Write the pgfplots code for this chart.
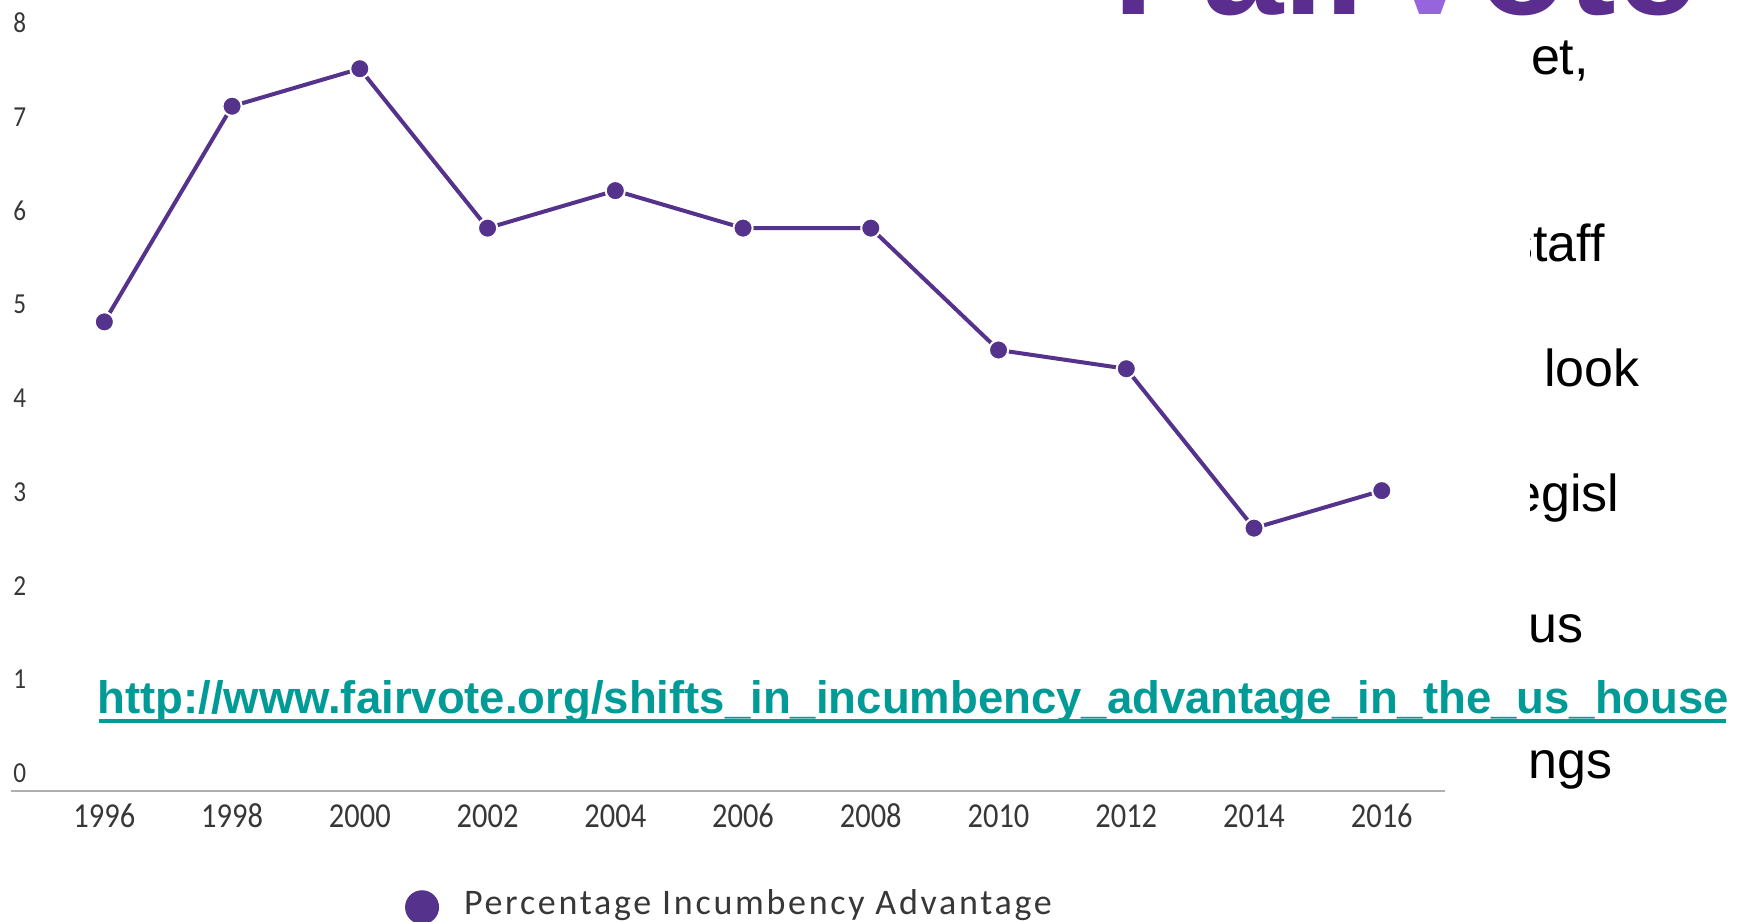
\documentclass[border=0pt]{standalone}
\usepackage{fontspec}
\usepackage{pgfplots}
\pgfplotsset{compat=1.18}
\setmainfont{Liberation Sans}
\newfontfamily\tickfont{Carlito}[FakeStretch=0.87]
\newfontfamily\legfont{Carlito}[LetterSpace=7.5]
\newfontfamily\slidefont{Liberation Sans}
\definecolor{fvpurple}{RGB}{85,50,140}
\definecolor{logopurple}{RGB}{90,45,142}
\definecolor{logolight}{RGB}{150,100,220}
\definecolor{teal}{RGB}{0,155,150}
\definecolor{axgray}{RGB}{175,175,175}
\definecolor{ticktext}{RGB}{55,55,55}

\pgfplotstableread{
year value
1996 5.0
1998 7.3
2000 7.7
2002 6.0
2004 6.4
2006 6.0
2008 6.0
2010 4.7
2012 4.5
2014 2.8
2016 3.2
}\datatable

\begin{document}
\begin{tikzpicture}
\useasboundingbox (0,0) rectangle (870pt,460.5pt);
\begin{scope}
\clip (0,0) rectangle (870pt,460.5pt);
% logo (cut off at top)
\node[anchor=base west, inner sep=0pt, font=\fontsize{73}{73}\selectfont\bfseries] at (556.5pt,453pt)
  {\textcolor{logopurple}{Fair}\textcolor{logolight}{V}\textcolor{logopurple}{ote}};
% slide text fragments (partly hidden behind the chart)
\begin{scope}
\clip (765pt,0) rectangle (870pt,440pt);
\begin{scope}[every node/.style={anchor=base west, inner sep=0pt, font=\slidefont\fontsize{26}{26}\selectfont}]
\node at (765.3pt,423pt) {et,};
\node at (753.5pt,329.5pt) {staff};
\node at (772pt,267pt) {look};
\node at (756pt,204.6pt) {egisl};
\node at (764pt,139pt) {us};
\node at (764pt,71pt) {ngs};
\end{scope}
\end{scope}
\begin{axis}[
  at={(5.5pt,65.15pt)}, anchor=south west,
  scale only axis, width=717pt, height=375.05pt,
  xmin=1994.539, xmax=2016.99, ymin=0, ymax=8,
  axis x line=bottom, axis y line=left,
  axis line style={-},
  x axis line style={axgray, line width=1.1pt},
  y axis line style={draw=none},
  xtick={1996,1998,...,2016}, ytick={0,1,...,8},
  major tick length=0pt, tick style={draw=none},
  x tick label style={/pgf/number format/1000 sep=, anchor=base, inner sep=0pt, yshift=-18.3pt, font=\tickfont\fontsize{17.5}{17.5}\selectfont, text=ticktext},
  y tick label style={anchor=base west, inner sep=0pt, xshift=1pt, yshift=4pt, font=\tickfont\fontsize{14.5}{14.5}\selectfont, text=ticktext},
  /pgf/number format/assume math mode=true,
  clip=false,
  legend style={draw=none, fill=none, at={(axis description cs:0.2748,-0.1447)}, anchor=west, inner sep=0pt, outer sep=0pt, font=\legfont\fontsize{18}{18}\selectfont, text=ticktext, nodes={inner sep=0pt}, /tikz/every even column/.append style={column sep=0pt}},
  legend cell align=left,
  legend image code/.code={\fill[fvpurple, draw=none] (8.5pt,-1.75pt) circle (8.5pt); \path[draw=none, fill=none] (0,-10.5pt) rectangle (29.5pt,15pt);},
]
\addplot[fvpurple, line width=2pt, mark=*, mark size=4.8pt, mark options={fill=fvpurple, draw=white, line width=1pt}] table[x=year, y=value] {\datatable};
\addlegendentry{Percentage Incumbency Advantage}
\end{axis}
% hyperlink text on top
\node[anchor=base west, inner sep=0pt, text=teal, font=\fontsize{22.75}{22.75}\selectfont\bfseries] at (48.5pt,103.5pt)
  {http://www.fairvote.org/shifts\_in\_incumbency\_advantage\_in\_the\_us\_house};
\fill[teal] (49.4pt,99.1pt) rectangle (862.8pt,100.9pt);
\end{scope}
\end{tikzpicture}
\end{document}
